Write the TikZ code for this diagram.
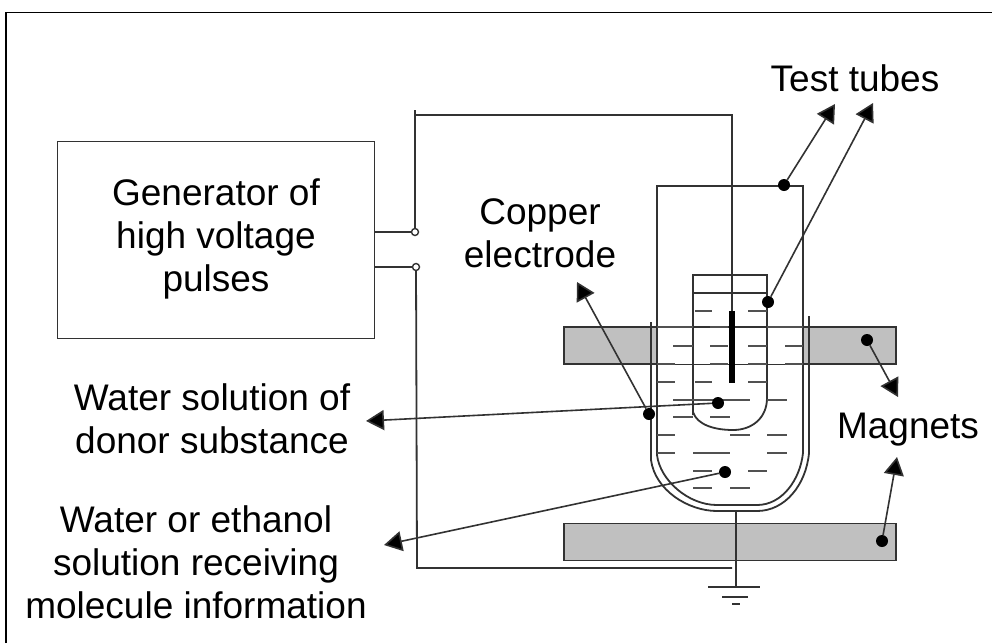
\documentclass[tikz,border=0pt]{standalone}
\usepackage{fontspec}
\setmainfont{Liberation Sans}
\usetikzlibrary{arrows.meta}
\definecolor{magnetgray}{RGB}{192,192,192}
\definecolor{linegray}{RGB}{50,50,50}
\tikzset{
  wire/.style={draw=linegray,line width=1.8pt},
  liquid/.style={draw=linegray!85,line width=1.7pt},
  label/.style={font=\fontsize{37}{43}\selectfont,align=center,text=black,inner sep=0pt},
  pointer/.style={draw=linegray,line width=1.6pt,-{Triangle[length=18pt,width=20pt,fill=black]}},
  anchordot/.style={circle,fill=black,inner sep=0pt,minimum size=12pt},
  terminal/.style={circle,draw=linegray,fill=white,line width=1.4pt,inner sep=0pt,minimum size=7pt},
  magnet/.style={draw=linegray,fill=magnetgray,line width=1.8pt,minimum width=332pt,minimum height=37pt,inner sep=0pt}
}
\begin{document}
\begin{tikzpicture}[x=1pt,y=-1pt]
\useasboundingbox (0,0) rectangle (992,643);
\fill[white] (0,0) rectangle (992,643);
\draw[black,line width=1.5pt] (6,643) -- (6,12.5) -- (992,12.5);
% magnets
\node[magnet] (magtop) at (730,345.5) {};
\node[magnet] (magbot) at (730,542) {};
\fill[white] (657,328) rectangle (803,364);
% generator
\node[draw=linegray,line width=1.8pt,minimum width=317pt,minimum height=197pt,inner sep=0pt] (gen) at (216,240) {};
\node[label] (gentext) at (216,239) {Generator of\\high voltage\\pulses};
% wires
\coordinate (t1) at (415,232);
\coordinate (t2) at (416,267);
\coordinate (topwire) at (732,115);
\coordinate (botwire) at (732,568);
\draw[wire] (gen.east |- t1) -- (t1);
\draw[wire] (gen.east |- t2) -- (t2);
\draw[wire] (t1) -- (415,110);
\draw[wire] (415,115) -- (topwire) -- (732,311);
\draw[wire] (t2) -- (417,568) -- (botwire);
\node[terminal] at (t1) {};
\node[terminal] at (t2) {};
% outer tube
\draw[wire] (657,455) -- (657,186) -- (803,186) -- (803,453);
\draw[wire] (657,455) .. controls (660,480) and (688,505) .. (717,505) -- (757,505) .. controls (782,505) and (800,480) .. (803,453);
% outer vessel
\draw[wire] (651,322) -- (651,460) .. controls (655,490) and (688,511) .. (717,511) -- (757,511) .. controls (785,511) and (806,485) .. (809,453) -- (809,316);
% inner tube
\draw[wire] (693,415) -- (693,275) -- (767,275) -- (767,398) .. controls (767,418) and (752,430) .. (733,430) .. controls (715,430) and (697,425) .. (693,412);
\draw[wire] (693,293) -- (767,293);
% electrode
\draw[black,line width=5.5pt] (732,311) -- (732,383);
% liquid dashes
\foreach \xa/\xb/\yy in {
 695/712/311, 748/767/311,
 657/693/327, 710/728/327, 767/803/327,
 673/693/346, 710/728/346, 748/767/346, 785/803/346,
 657/675/364, 710/728/364, 748/767/364, 785/803/364,
 657/675/382, 695/712/382, 748/767/382,
 673/693/400, 693/750/400, 767/787/400,
 673/693/417, 710/730/417,
 657/675/435, 730/750/435, 767/787/435,
 657/675/453, 693/730/453, 767/787/453,
 693/712/471, 748/767/471,
 693/712/488, 730/750/488}
 {\draw[liquid] (\xa,\yy) -- (\xb,\yy);}
% ground
\coordinate (gnd) at (736,587);
\draw[wire] (736,511) -- (gnd);
\draw[wire] (708,587) -- (760,587);
\draw[wire] (722,597) -- (748,597);
\draw[wire] (732,604) -- (740,604);
% labels
\node[label] (tubes) at (855,78) {Test tubes};
\node[label] (copper) at (540,233) {Copper\\electrode};
\node[label] (donor) at (212,419) {Water solution of\\donor substance};
\node[label] (recv) at (196,562) {Water or ethanol\\solution receiving\\molecule information};
\node[label] (mags) at (908,430) {Magnets};
% pointers
\node[anchordot] (d1) at (784,185) {};
\node[anchordot] (d2) at (768,302) {};
\node[anchordot] (d3) at (649,414) {};
\node[anchordot] (d4) at (718,403) {};
\node[anchordot] (d5) at (725,472) {};
\node[anchordot] (d6) at (867,340) {};
\node[anchordot] (d7) at (882,541) {};
\coordinate (a1) at (835,104);
\coordinate (a2) at (873,103);
\coordinate (a3) at (577,282);
\coordinate (a4) at (366,421);
\coordinate (a5) at (384,545);
\coordinate (a6) at (898,397);
\coordinate (a7) at (897,457);
\draw[pointer] (d1) -- (a1);
\draw[pointer] (d2) -- (a2);
\draw[pointer] (d3) -- (a3);
\draw[pointer] (d4) -- (a4);
\draw[pointer] (d5) -- (a5);
\draw[pointer] (d6) -- (a6);
\draw[pointer] (d7) -- (a7);
\end{tikzpicture}
\end{document}
